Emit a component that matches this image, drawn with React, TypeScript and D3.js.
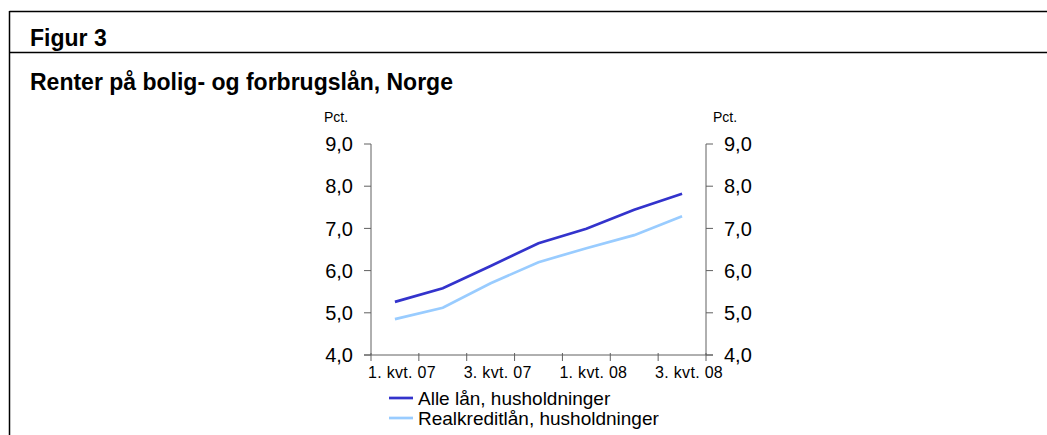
import React from 'react';
import * as d3 from 'd3';

const categories = ['1. kvt. 07', '2. kvt. 07', '3. kvt. 07', '4. kvt. 07', '1. kvt. 08', '2. kvt. 08', '3. kvt. 08'];
const tickLabels = ['1. kvt. 07', '', '3. kvt. 07', '', '1. kvt. 08', '', '3. kvt. 08'];
const alleLaan = [5.26, 5.58, 6.11, 6.65, 6.99, 7.44, 7.82];
const realkredit = [4.85, 5.12, 5.7, 6.2, 6.53, 6.84, 7.29];
const yTicks = [4, 5, 6, 7, 8, 9];

const seriesNames = ['Alle lån, husholdninger', 'Realkreditlån, husholdninger'];
const colors = ['#3333cc', '#99ccff'];

const W = 1047;
const H = 435;
const margin = { left: 371, right: W - 706, top: 144, bottom: H - 355 };

const App = () => {
  const x = d3.scaleBand().domain(categories).range([margin.left, W - margin.right]);
  const y = d3.scaleLinear().domain([4, 9]).range([H - margin.bottom, margin.top]);

  const line = d3.line<number>()
    .x((d, i) => x(categories[i])! + x.bandwidth() / 2)
    .y(d => y(d));

  const font = '"Liberation Sans", Arial, sans-serif';
  const axisColor = '#606060';
  const fmt = (v: number) => v.toFixed(1).replace('.', ',');
  const x0 = margin.left;
  const x1 = W - margin.right;
  const yBottom = H - margin.bottom;

  return (
    <svg width={W} height={H} style={{ position: 'absolute', left: 0, top: 0, background: '#fff' }} fontFamily={font}>
      {/* frame */}
      <line x1={9.5} x2={W} y1={11.5} y2={11.5} stroke="#000" strokeWidth={1.5} />
      <line x1={9.5} x2={W} y1={52.5} y2={52.5} stroke="#000" strokeWidth={1.5} />
      <line x1={9.5} x2={9.5} y1={11} y2={H} stroke="#000" strokeWidth={1.5} />
      <text x={30} y={46} fontSize={23} fontWeight="bold">Figur 3</text>
      <text x={30} y={90} fontSize={23} fontWeight="bold">Renter på bolig- og forbrugslån, Norge</text>

      {/* unit labels */}
      <text x={324} y={122} fontSize={14}>Pct.</text>
      <text x={713} y={122} fontSize={14}>Pct.</text>

      {/* y axes */}
      <line x1={x0} x2={x0} y1={y(9)} y2={yBottom} stroke={axisColor} />
      <line x1={x1} x2={x1} y1={y(9)} y2={yBottom} stroke={axisColor} />
      {yTicks.map(t => (
        <g key={t}>
          <line x1={x0 - 7} x2={x0} y1={y(t)} y2={y(t)} stroke={axisColor} />
          <line x1={x1} x2={x1 + 7} y1={y(t)} y2={y(t)} stroke={axisColor} />
          <text x={353} y={y(t)} dy="0.36em" fontSize={20} textAnchor="end">{fmt(t)}</text>
          <text x={724} y={y(t)} dy="0.36em" fontSize={20}>{fmt(t)}</text>
        </g>
      ))}

      {/* x axis */}
      <line x1={x0 - 7} x2={x1 + 7} y1={yBottom} y2={yBottom} stroke={axisColor} />
      {d3.range(categories.length + 1).map(i => {
        const xx = x0 + i * x.step();
        return <line key={i} x1={xx} x2={xx} y1={yBottom - 2} y2={yBottom + 6} stroke={axisColor} />;
      })}
      {categories.map((c, i) => tickLabels[i] ? (
        <text key={c} x={x(c)! + x.bandwidth() / 2 + 7} y={378} fontSize={16} textAnchor="middle" letterSpacing={0.3}>
          {tickLabels[i]}
        </text>
      ) : null)}

      {/* lines */}
      {[alleLaan, realkredit].map((s, k) => (
        <path key={k} d={line(s)!} fill="none" stroke={colors[k]} strokeWidth={2.7} />
      ))}

      {/* legend */}
      {seriesNames.map((n, k) => (
        <g key={n} transform={`translate(389, ${398 + k * 20})`}>
          <line x1={0} x2={24} y1={0} y2={0} stroke={colors[k]} strokeWidth={2.7} />
          <text x={29} y={0} dy="0.36em" fontSize={19}>{n}</text>
        </g>
      ))}
    </svg>
  );
};

export default App;
